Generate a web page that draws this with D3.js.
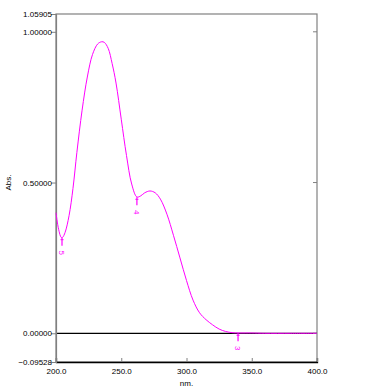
<!DOCTYPE html>
<html>
<head>
<meta charset="utf-8">
<script src="https://cdn.jsdelivr.net/npm/d3@7"></script>
<style>
  body { margin: 0; background: #fff; }
  text { font-family: "Liberation Sans", Arial, sans-serif; }
</style>
</head>
<body>
<script>
// spectrum (nm, Abs.)
var wavelength = [200, 202, 204, 205, 207, 210, 213, 216, 220, 224, 228, 232, 235, 237, 240, 243, 246, 250, 254, 258, 262, 265, 268, 272, 276, 280, 285, 290, 295, 300, 305, 310, 315, 320, 325, 330, 335, 340, 345, 350, 360, 380, 400];
var absorb = [0.40, 0.345, 0.318, 0.318, 0.335, 0.39, 0.48, 0.6, 0.74, 0.85, 0.925, 0.96, 0.967, 0.965, 0.945, 0.895, 0.83, 0.71, 0.59, 0.495, 0.452, 0.456, 0.466, 0.472, 0.466, 0.445, 0.395, 0.325, 0.25, 0.175, 0.11, 0.068, 0.045, 0.028, 0.014, 0.006, 0.002, 0.001, 0.001, 0.001, 0.0, 0.0, 0.0];

// valley markers
var markNo = ["5", "4", "3"];
var markNm = [204.6, 262, 339.5];
var markAbs = [0.317, 0.451, 0.0];

var yTicks = [1.05905, 1.0, 0.5, 0.0, -0.09528];
var xTicks = [200, 250, 300, 350, 400];

var w = 375, h = 387;
var svg = d3.select("body").append("svg")
  .attr("width", w)
  .attr("height", h);

var x = d3.scaleLinear().domain([200, 400]).range([56, 317]);
var y = d3.scaleLinear().domain([-0.09528, 1.05905]).range([362, 14]);

// frame
svg.append("rect")
  .attr("x", x(200)).attr("y", y(1.05905))
  .attr("width", x(400) - x(200)).attr("height", y(-0.09528) - y(1.05905))
  .attr("fill", "none").attr("stroke", "#808080").attr("stroke-width", 1.2);

// zero line
svg.append("line")
  .attr("x1", x(200)).attr("x2", x(400))
  .attr("y1", y(0)).attr("y2", y(0))
  .attr("stroke", "#000").attr("stroke-width", 1.3);

// bottom axis
var xAxis = d3.axisBottom(x).tickValues(xTicks).tickSize(-4).tickFormat(d3.format(".1f"));
var gx = svg.append("g").attr("transform", "translate(0," + y(-0.09528) + ")").call(xAxis);
gx.select(".domain").attr("stroke", "#000").attr("stroke-width", 1.3);
gx.selectAll(".tick line").attr("stroke", "#808080");
gx.selectAll("text").attr("font-size", "8px").attr("y", 6).attr("fill", "#000");

// left axis
var yAxis = d3.axisLeft(y).tickValues(yTicks).tickSize(5).tickFormat(function(d) {
  return d3.format(".5f")(d);
});
var gy = svg.append("g").attr("transform", "translate(" + x(200) + ",0)").call(yAxis);
gy.select(".domain").attr("stroke", "#808080").attr("stroke-width", 1.2);
gy.selectAll(".tick line").attr("stroke", "#808080");
gy.selectAll("text").attr("font-size", "8px").attr("x", -4).attr("fill", "#000");

// right inner ticks
svg.selectAll(".rtick")
  .data([1.0, 0.5, 0.0])
  .enter().append("line")
  .attr("x1", x(400) - 4).attr("x2", x(400))
  .attr("y1", function(d) { return y(d); })
  .attr("y2", function(d) { return y(d); })
  .attr("stroke", "#808080");

// axis titles
svg.append("text")
  .attr("transform", "translate(11," + y(0.5) + ") rotate(-90)")
  .attr("text-anchor", "middle")
  .attr("font-size", "8px")
  .text("Abs.");
svg.append("text")
  .attr("x", x(300)).attr("y", 386)
  .attr("text-anchor", "middle")
  .attr("font-size", "8px")
  .text("nm.");

// spectrum line
var line = d3.line()
  .x(function(d, i) { return x(wavelength[i]); })
  .y(function(d) { return y(d); })
  .curve(d3.curveCatmullRom);

svg.append("path")
  .datum(absorb)
  .attr("d", line)
  .attr("fill", "none")
  .attr("stroke", "#ff00ff")
  .attr("stroke-width", 1);

// valley marks
var marks = svg.selectAll(".mark")
  .data(markNo)
  .enter().append("g")
  .attr("transform", function(d, i) {
    return "translate(" + x(markNm[i]) + "," + y(markAbs[i]) + ")";
  });
marks.append("line")
  .attr("x1", 0).attr("x2", 0).attr("y1", 0).attr("y2", 8)
  .attr("stroke", "#ff00ff").attr("stroke-width", 1.2);
marks.append("line")
  .attr("x1", -1.5).attr("x2", 1.5).attr("y1", 2).attr("y2", 2)
  .attr("stroke", "#ff00ff");
marks.append("text")
  .attr("transform", "translate(0,15) rotate(90)")
  .attr("text-anchor", "middle")
  .attr("dy", "0.35em")
  .attr("font-size", "8px")
  .attr("fill", "#ff00ff")
  .text(function(d) { return d; });
</script>
</body>
</html>
